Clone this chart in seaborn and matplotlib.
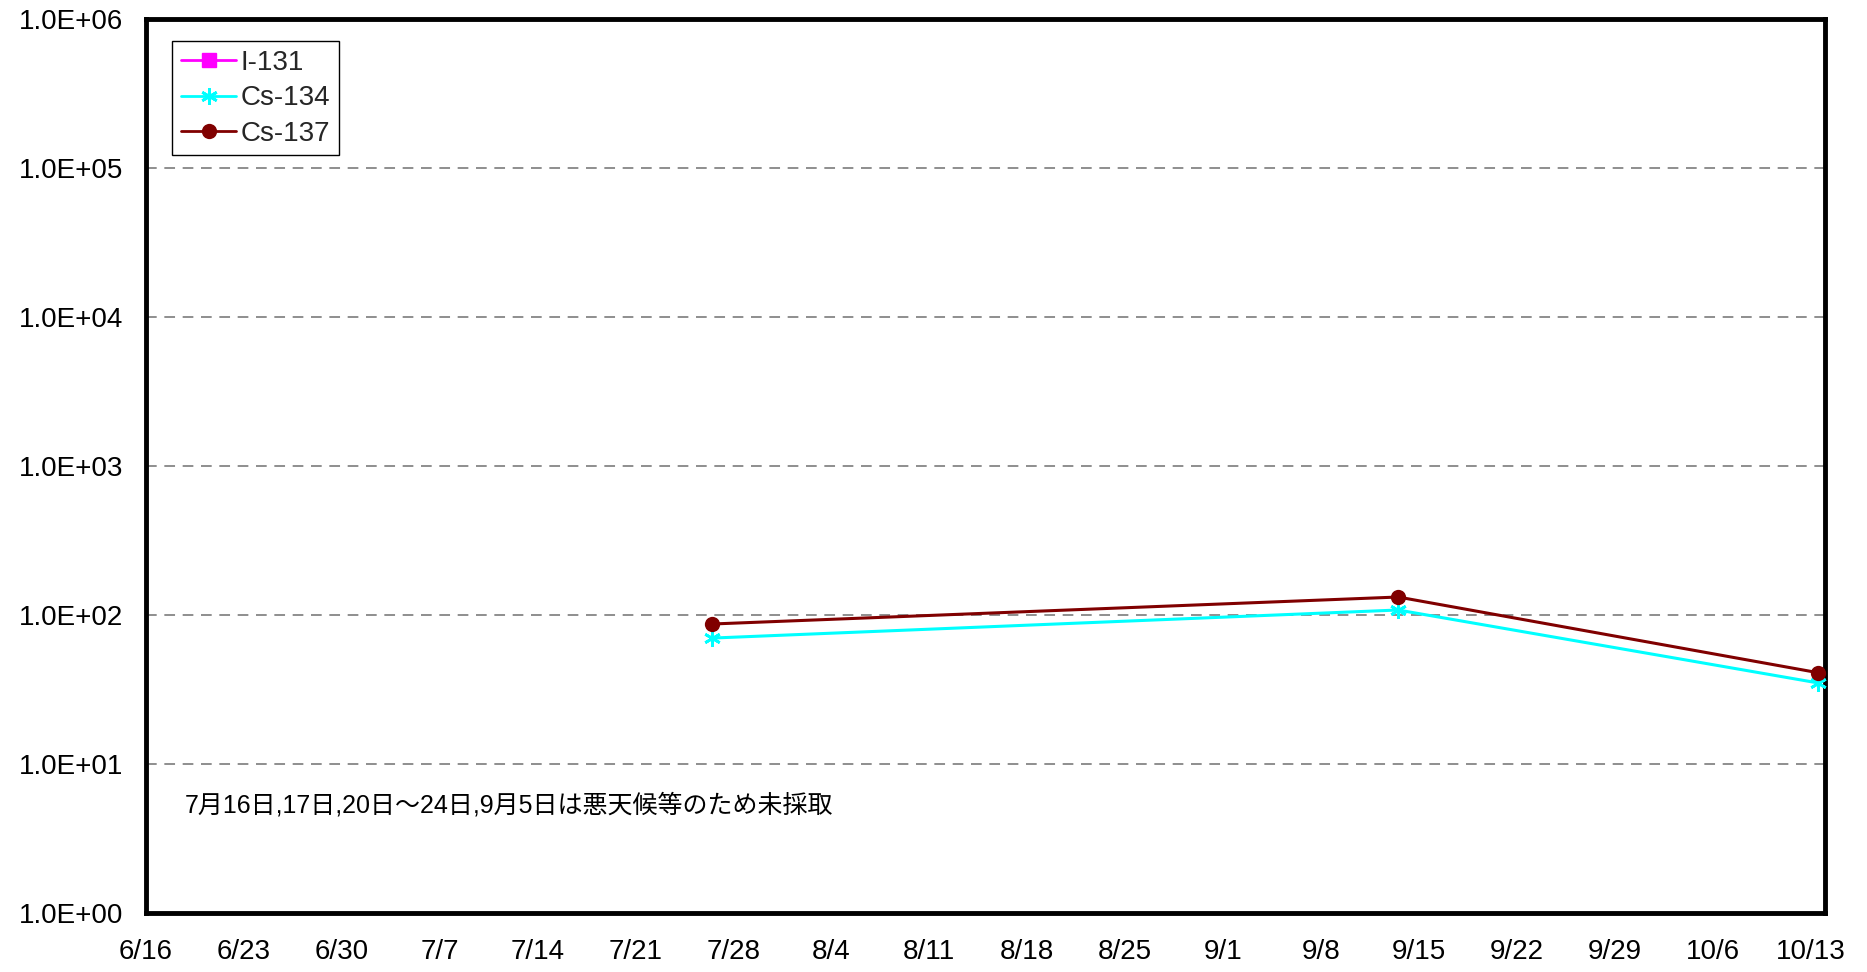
import matplotlib
matplotlib.use("Agg")
import matplotlib.pyplot as plt
from matplotlib.lines import Line2D
from matplotlib.ticker import FixedLocator, NullLocator
import numpy as np
import pandas as pd
import seaborn as sns

# Data
sample_dates = ["2011-07-26 12:00", "2011-09-13 12:00", "2011-10-13 12:00"]
cs134 = [70, 108, 35]
cs137 = [87, 132, 41]
i131 = [np.nan, np.nan, np.nan]
tick_labels = ["6/16", "6/23", "6/30", "7/7", "7/14", "7/21", "7/28", "8/4", "8/11",
               "8/18", "8/25", "9/1", "9/8", "9/15", "9/22", "9/29", "10/6", "10/13"]
y_labels = ["1.0E+00", "1.0E+01", "1.0E+02", "1.0E+03", "1.0E+04", "1.0E+05", "1.0E+06"]
note = "7月16日,17日,20日～24日,9月5日は悪天候等のため未採取"

sns.set_style("white")
plt.rcParams["font.family"] = ["Liberation Sans", "Noto Sans CJK JP", "DejaVu Sans"]

df = pd.DataFrame({
    "date": pd.to_datetime(sample_dates),
    "I-131": i131,
    "Cs-134": cs134,
    "Cs-137": cs137,
})

fig = plt.figure(figsize=(18.67, 9.72), dpi=100)
ax = fig.add_axes([0.078, 0.0607, 0.8995, 0.9198])

styles = {
    "Cs-134": dict(color="#00FFFF", marker=(6, 2, 0), markersize=12, mew=2),
    "Cs-137": dict(color="#800000", marker="o", markersize=11, mew=0),
}
for name, st in styles.items():
    sns.lineplot(data=df, x="date", y=name, ax=ax, color=st["color"], lw=2.2,
                 marker=st["marker"], markersize=st["markersize"],
                 markeredgecolor=st["color"], markeredgewidth=st["mew"],
                 markerfacecolor=st["color"], legend=False, clip_on=False,
                 zorder=5)

ax.set_yscale("log")
ax.set_ylim(1, 1e6)
ax.yaxis.set_major_locator(FixedLocator([10.0 ** k for k in range(7)]))
ax.yaxis.set_minor_locator(NullLocator())
ax.set_yticklabels(y_labels)

x0 = pd.Timestamp("2011-06-16")
ticks = [x0 + pd.Timedelta(days=7 * i) for i in range(len(tick_labels))]
ax.set_xlim(x0, pd.Timestamp("2011-10-14"))
ax.set_xticks(ticks)
ax.set_xticklabels(tick_labels)
ax.set_xlabel("")
ax.set_ylabel("")

ax.tick_params(axis="x", direction="in", length=8, width=1, pad=19,
               labelsize=20, colors="black")
ax.tick_params(axis="y", length=0, pad=16, labelsize=20, labelcolor="black")

for k in range(1, 6):
    ax.axhline(10.0 ** k, color="#707070", lw=1.1, ls=(0, (7, 5)), zorder=0)

for sp in ax.spines.values():
    sp.set_visible(True)
    sp.set_color("black")
    sp.set_linewidth(3.5)
    sp.set_zorder(4)

handles = [
    Line2D([], [], color="#FF00FF", lw=2, marker="s", markersize=10,
           markerfacecolor="#FF00FF", markeredgecolor="#FF00FF"),
    Line2D([], [], color="#00FFFF", lw=2, marker=(6, 2, 0), markersize=12,
           markeredgewidth=2, markeredgecolor="#00FFFF"),
    Line2D([], [], color="#800000", lw=2, marker="o", markersize=11,
           markerfacecolor="#800000", markeredgewidth=0),
]
leg = ax.legend(handles, ["I-131", "Cs-134", "Cs-137"], loc="upper left",
                bbox_to_anchor=(0.016, 0.975), fontsize=20, frameon=True,
                fancybox=False, edgecolor="black", framealpha=1,
                handlelength=2.0, handletextpad=0.15, borderpad=0.3,
                labelspacing=0.35, borderaxespad=0)
leg.get_frame().set_linewidth(1)

ax.text(185 / 1867, 1 - 805 / 972, note, transform=fig.transFigure,
        fontsize=18, va="center", ha="left", color="black",
        family=["Liberation Sans", "Noto Sans CJK JP"])

fig.savefig("out.png", dpi=100)
